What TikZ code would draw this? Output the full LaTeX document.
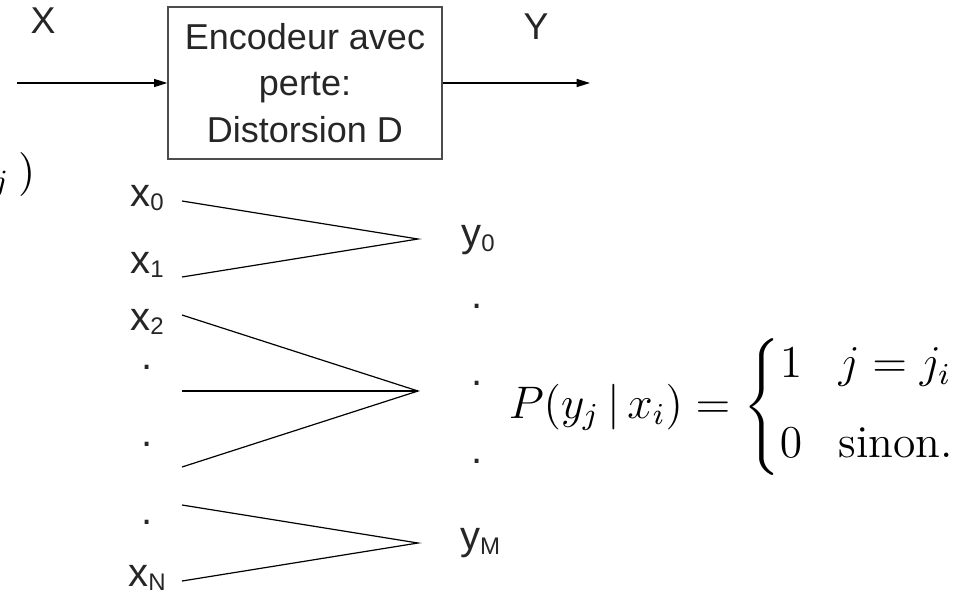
\documentclass[tikz,border=0pt]{standalone}
\usepackage{amsmath}
\usepackage[no-math]{fontspec}
\newfontfamily\labelfont{Liberation Sans}
\usetikzlibrary{arrows.meta}
\newcommand{\idx}[1]{\raisebox{-0.12em}{\fontsize{18}{18}\selectfont #1}}

\begin{document}
\begin{tikzpicture}[
  x=0.75pt,y=-0.75pt,
  lbl/.style={font=\labelfont\fontsize{28}{32}\selectfont,text=black!85,inner sep=0pt},
  sym/.style={font=\labelfont\fontsize{30}{34}\selectfont,text=black!85,inner sep=0pt},
  encbox/.style={rectangle,draw=black!70,line width=1pt,
                 minimum width=205.5pt,minimum height=114pt,align=center,
                 font=\labelfont\fontsize{27}{35}\selectfont,text=black!85},
  arr/.style={-{Triangle[length=10pt,width=6pt]},line width=1pt},
  fan/.style={line width=0.9pt},
  eq/.style={font=\fontsize{12}{14}\selectfont,inner sep=0pt,scale=2.85}
]
\useasboundingbox (0,0) rectangle (970,597);

% --- encoder block
\node[encbox] (enc) at (305,83) {Encodeur avec\\perte:\\Distorsion D};
\coordinate (src) at (17,83);
\coordinate (dst) at (590,83);
\node[lbl] (X) at (43,21) {X};
\node[lbl] (Y) at (536,27) {Y};
\draw[arr] (src) -- (enc.west);
\draw[arr] (enc.east) -- (dst);

% --- left column
\node[sym] (x0) at (147,198) {x\idx{0}};
\node[sym] (x1) at (147,265) {x\idx{1}};
\node[sym] (x2) at (147,322) {x\idx{2}};
\node[sym] (d1) at (147,367) {.};
\node[sym] (d2) at (147,444) {.};
\node[sym] (d3) at (147,522) {.};
\node[sym] (xN) at (147,578) {x\idx{N}};

% --- right column
\node[sym] (y0) at (478,240) {y\idx{0}};
\node[sym] (e1) at (477,306) {.};
\node[sym] (e2) at (477,383) {.};
\node[sym] (e3) at (477,461) {.};
\node[sym] (yM) at (480,543) {y\idx{M}};

% --- fan-in
\coordinate (a0) at (182,201);
\coordinate (a1) at (182,277);
\coordinate (a2) at (182,315);
\coordinate (a3) at (182,391);
\coordinate (a4) at (182,467);
\coordinate (a5) at (182,505);
\coordinate (a6) at (182,581);
\coordinate (j0) at (418,239);
\coordinate (j1) at (418,391);
\coordinate (jM) at (418,543);
\draw[fan] (a0) -- (j0) -- (a1);
\draw[fan] (a2) -- (j1) -- (a4);
\draw[fan] (a3) -- (j1);
\draw[fan] (a5) -- (jM) -- (a6);

% --- transition law
\node[eq,anchor=base west] (law) at (508,418)
  {$P(y_j \,|\, x_i) = \left\{\begin{array}{@{}l@{\hspace{0.8em}}l@{}} 1 & j = j_i\\[7pt] 0 & \text{sinon.} \end{array}\right.$};
\node[inner sep=0pt,font=\fontsize{10}{12}\selectfont,scale=3.3,anchor=base east] (frag) at (36,185) {${}_j\,)$};
\end{tikzpicture}
\end{document}
